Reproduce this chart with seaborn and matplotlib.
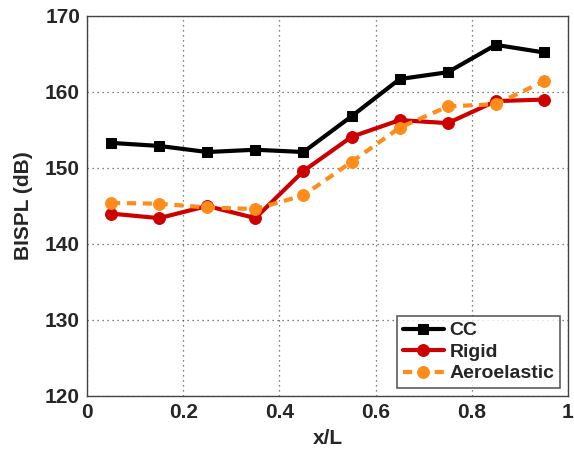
import numpy as np
import pandas as pd
import matplotlib
matplotlib.use("Agg")
import matplotlib.pyplot as plt
import seaborn as sns

x_pos = [0.05, 0.15, 0.25, 0.35, 0.45, 0.55, 0.65, 0.75, 0.85, 0.95]
cc = [153.3, 152.9, 152.1, 152.4, 152.1, 156.8, 161.7, 162.6, 166.2, 165.2]
rigid = [144.0, 143.4, 145.0, 143.4, 149.6, 154.1, 156.3, 155.9, 158.8, 159.0]
aero = [145.4, 145.3, 144.8, 144.6, 146.4, 150.8, 155.3, 158.1, 158.4, 161.4]
series_names = ["CC", "Rigid", "Aeroelastic"]
x_ticks = [0, 0.2, 0.4, 0.6, 0.8, 1]
x_ticklabels = ["0", "0.2", "0.4", "0.6", "0.8", "1"]
y_ticks = [120, 130, 140, 150, 160, 170]

sns.set_style("white")
plt.rcParams['font.family'] = ['Liberation Sans', 'DejaVu Sans']
plt.rcParams['font.weight'] = 'bold'

df = pd.DataFrame({
    "x": x_pos * 3,
    "y": cc + rigid + aero,
    "series": [series_names[0]] * 10 + [series_names[1]] * 10 + [series_names[2]] * 10,
})

fig = plt.figure(figsize=(5.74, 4.54), dpi=100)
ax = fig.add_axes([0.1516, 0.1278, 0.8379, 0.837])

palette = {"CC": "#000000", "Rigid": "#cc0000", "Aeroelastic": "#ff8c1a"}
styles = {"CC": ("-", "s", 7.5), "Rigid": ("-", "o", 8.5), "Aeroelastic": ((0, (2.2, 1.6)), "o", 8.5)}
for name in series_names:
    ls, mk, ms = styles[name]
    sub = df[df["series"] == name]
    sns.lineplot(data=sub, x="x", y="y", ax=ax, color=palette[name], linestyle=ls,
                 marker=mk, markersize=ms, linewidth=3.0, markeredgecolor=palette[name],
                 label=name)

ax.set_xlim(0, 1)
ax.set_ylim(120, 170)
ax.set_xticks(x_ticks)
ax.set_xticklabels(x_ticklabels)
ax.set_yticks(y_ticks)
ax.grid(True, linestyle=(0, (1, 3)), color="#555555", linewidth=0.9)
for s in ax.spines.values():
    s.set_color("#444444")
    s.set_linewidth(1.0)
ax.tick_params(axis="both", labelsize=15, direction="in", length=4, color="#444444", pad=5)
for lab in ax.get_xticklabels() + ax.get_yticklabels():
    lab.set_fontweight("bold")
ax.set_xlabel("x/L", fontsize=15, fontweight="bold", labelpad=5)
ax.set_ylabel("BISPL (dB)", fontsize=15, fontweight="bold", labelpad=9)

leg = ax.legend(loc="lower right", fontsize=14, frameon=True, fancybox=False,
                edgecolor="#333333", handlelength=2.1, handletextpad=0.3,
                borderpad=0.3, labelspacing=0.2, borderaxespad=0.4)
leg.get_frame().set_linewidth(1.2)
for t in leg.get_texts():
    t.set_fontweight("bold")

fig.savefig("out.png", dpi=100)
